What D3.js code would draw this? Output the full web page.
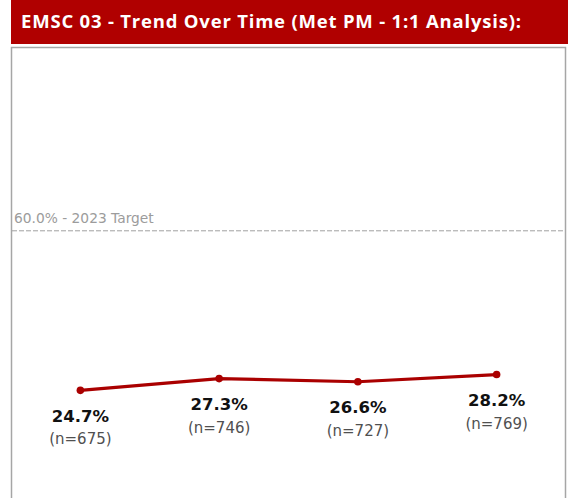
<!DOCTYPE html>
<html>
<head>
<meta charset="utf-8">
<script src="https://cdn.jsdelivr.net/npm/d3@7"></script>
<style>
html,body{margin:0;padding:0;background:#fff;}
svg{display:block;}
</style>
</head>
<body>
<svg id="chart" width="571" height="498"></svg>
<script>
const title = "EMSC 03 - Trend Over Time (Met PM - 1:1 Analysis):";
const periods = ["P1", "P2", "P3", "P4"];
const rates = [24.7, 27.3, 26.6, 28.2];
const counts = [675, 746, 727, 769];
const targetValue = 60.0;
const targetLabel = "60.0% - 2023 Target";

const svg = d3.select("#chart");

// Title bar
svg.append("rect").attr("x", 11).attr("y", 0).attr("width", 557).attr("height", 44).attr("fill", "#b00000");
const t = svg.append("text").attr("x", 21).attr("y", 27.5)
  .attr("font-family", "'Open Sans', sans-serif").attr("font-weight", 700)
  .attr("font-size", 18.5).attr("fill", "#fff").text(title);
const tw = t.node().getComputedTextLength();
t.attr("letter-spacing", ((500 - tw) / (title.length - 1)).toFixed(3));

// Panel border
svg.append("rect").attr("x", 11.5).attr("y", 47.5).attr("width", 554).attr("height", 470)
  .attr("fill", "#fff").attr("stroke", "#a6a6a6").attr("stroke-width", 1.5);

const x = d3.scalePoint().domain(periods).range([11, 566]).padding(0.5);
const y = d3.scaleLinear().domain([0, 100]).range([502, 50]);

// Target line
svg.append("line").attr("x1", 12).attr("x2", 565)
  .attr("y1", y(targetValue)).attr("y2", y(targetValue))
  .attr("stroke", "#a0a0a0").attr("stroke-width", 1).attr("stroke-dasharray", "5,2");
svg.append("text").attr("x", 14).attr("y", y(targetValue) - 7.5)
  .attr("font-family", "'DejaVu Sans', sans-serif")
  .attr("font-size", 13.8).attr("fill", "#9c9c9c").text(targetLabel);

const data = periods.map((p, i) => ({p, v: rates[i], n: counts[i]}));

const line = d3.line().x(d => x(d.p)).y(d => y(d.v));
svg.append("path").datum(data).attr("d", line)
  .attr("fill", "none").attr("stroke", "#aa0000").attr("stroke-width", 3.2);

svg.selectAll("circle.pt").data(data).join("circle").attr("class", "pt")
  .attr("cx", d => x(d.p)).attr("cy", d => y(d.v)).attr("r", 3.8).attr("fill", "#aa0000");

svg.selectAll("text.val").data(data).join("text").attr("class", "val")
  .attr("x", d => x(d.p)).attr("y", d => y(d.v) + 31.5)
  .attr("text-anchor", "middle")
  .attr("font-family", "'DejaVu Sans', sans-serif").attr("font-weight", 700)
  .attr("font-size", 16.5).attr("fill", "#111").text(d => d.v.toFixed(1) + "%");

svg.selectAll("text.n").data(data).join("text").attr("class", "n")
  .attr("x", d => x(d.p)).attr("y", d => y(d.v) + 54)
  .attr("text-anchor", "middle")
  .attr("font-family", "'DejaVu Sans', sans-serif")
  .attr("font-size", 15).attr("fill", "#505050").text(d => "(n=" + d.n + ")");
</script>
</body>
</html>
